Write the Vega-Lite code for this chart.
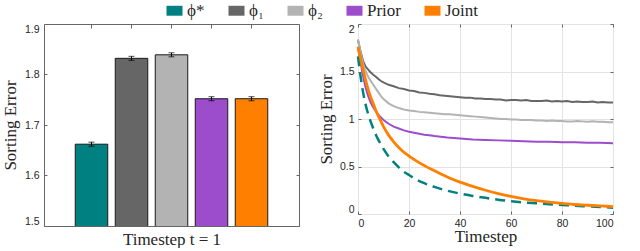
{
  "$schema": "https://vega.github.io/schema/vega-lite/v6.json",
  "padding": {"left": 0, "top": 2, "right": 0, "bottom": 0},
  "background": "white",
  "spacing": 16,
  "config": {
    "view": {"stroke": "#666666", "strokeWidth": 1},
    "axis": {
      "labelFont": "Liberation Sans", "labelFontSize": 10.5, "labelColor": "#262626",
      "titleFont": "Liberation Serif", "titleFontSize": 17, "titleFontWeight": "normal", "titleColor": "#262626",
      "domainColor": "#666666", "tickColor": "#666666", "gridColor": "#e3e3e3"
    }
  },
  "datasets": {
    "bars": [
      {"name": "ϕ*", "value": 1.662, "err": 0.004},
      {"name": "ϕ₁", "value": 1.832, "err": 0.004},
      {"name": "ϕ₂", "value": 1.839, "err": 0.004},
      {"name": "Prior", "value": 1.752, "err": 0.004},
      {"name": "Joint", "value": 1.752, "err": 0.004}
    ],
    "g": [
      {"name": "ϕ₁", "t": 0, "v": 1.83}, {"name": "ϕ₁", "t": 1, "v": 1.71}, {"name": "ϕ₁", "t": 2, "v": 1.61}, {"name": "ϕ₁", "t": 3, "v": 1.55}, {"name": "ϕ₁", "t": 4, "v": 1.52}, {"name": "ϕ₁", "t": 5, "v": 1.49}, {"name": "ϕ₁", "t": 6, "v": 1.465}, {"name": "ϕ₁", "t": 7, "v": 1.445}, {"name": "ϕ₁", "t": 8, "v": 1.42}, {"name": "ϕ₁", "t": 9, "v": 1.40}, {"name": "ϕ₁", "t": 10, "v": 1.385},
      {"name": "ϕ₁", "t": 12, "v": 1.36}, {"name": "ϕ₁", "t": 14, "v": 1.345}, {"name": "ϕ₁", "t": 16, "v": 1.325}, {"name": "ϕ₁", "t": 18, "v": 1.315}, {"name": "ϕ₁", "t": 20, "v": 1.30}, {"name": "ϕ₁", "t": 22, "v": 1.295}, {"name": "ϕ₁", "t": 24, "v": 1.28}, {"name": "ϕ₁", "t": 26, "v": 1.275}, {"name": "ϕ₁", "t": 28, "v": 1.265}, {"name": "ϕ₁", "t": 30, "v": 1.26},
      {"name": "ϕ₁", "t": 32, "v": 1.25}, {"name": "ϕ₁", "t": 34, "v": 1.245}, {"name": "ϕ₁", "t": 36, "v": 1.24}, {"name": "ϕ₁", "t": 38, "v": 1.235}, {"name": "ϕ₁", "t": 40, "v": 1.23}, {"name": "ϕ₁", "t": 42, "v": 1.225}, {"name": "ϕ₁", "t": 44, "v": 1.225}, {"name": "ϕ₁", "t": 46, "v": 1.215}, {"name": "ϕ₁", "t": 48, "v": 1.215}, {"name": "ϕ₁", "t": 50, "v": 1.21},
      {"name": "ϕ₁", "t": 52, "v": 1.21}, {"name": "ϕ₁", "t": 54, "v": 1.205}, {"name": "ϕ₁", "t": 56, "v": 1.205}, {"name": "ϕ₁", "t": 58, "v": 1.195}, {"name": "ϕ₁", "t": 60, "v": 1.20}, {"name": "ϕ₁", "t": 62, "v": 1.20}, {"name": "ϕ₁", "t": 64, "v": 1.195}, {"name": "ϕ₁", "t": 66, "v": 1.20}, {"name": "ϕ₁", "t": 68, "v": 1.19}, {"name": "ϕ₁", "t": 70, "v": 1.19},
      {"name": "ϕ₁", "t": 72, "v": 1.19}, {"name": "ϕ₁", "t": 74, "v": 1.195}, {"name": "ϕ₁", "t": 76, "v": 1.185}, {"name": "ϕ₁", "t": 78, "v": 1.19}, {"name": "ϕ₁", "t": 80, "v": 1.185}, {"name": "ϕ₁", "t": 82, "v": 1.19}, {"name": "ϕ₁", "t": 84, "v": 1.18}, {"name": "ϕ₁", "t": 86, "v": 1.185}, {"name": "ϕ₁", "t": 88, "v": 1.18}, {"name": "ϕ₁", "t": 90, "v": 1.18},
      {"name": "ϕ₁", "t": 92, "v": 1.185}, {"name": "ϕ₁", "t": 94, "v": 1.175}, {"name": "ϕ₁", "t": 96, "v": 1.18}, {"name": "ϕ₁", "t": 98, "v": 1.175}, {"name": "ϕ₁", "t": 100, "v": 1.175},
      {"name": "ϕ₂", "t": 0, "v": 1.84}, {"name": "ϕ₂", "t": 1, "v": 1.70}, {"name": "ϕ₂", "t": 2, "v": 1.58}, {"name": "ϕ₂", "t": 3, "v": 1.50}, {"name": "ϕ₂", "t": 4, "v": 1.445}, {"name": "ϕ₂", "t": 5, "v": 1.40}, {"name": "ϕ₂", "t": 6, "v": 1.36}, {"name": "ϕ₂", "t": 7, "v": 1.32}, {"name": "ϕ₂", "t": 8, "v": 1.28}, {"name": "ϕ₂", "t": 9, "v": 1.24}, {"name": "ϕ₂", "t": 10, "v": 1.21},
      {"name": "ϕ₂", "t": 12, "v": 1.165}, {"name": "ϕ₂", "t": 14, "v": 1.135}, {"name": "ϕ₂", "t": 16, "v": 1.115}, {"name": "ϕ₂", "t": 18, "v": 1.10}, {"name": "ϕ₂", "t": 20, "v": 1.09}, {"name": "ϕ₂", "t": 22, "v": 1.085}, {"name": "ϕ₂", "t": 24, "v": 1.075}, {"name": "ϕ₂", "t": 26, "v": 1.07}, {"name": "ϕ₂", "t": 28, "v": 1.065}, {"name": "ϕ₂", "t": 30, "v": 1.06},
      {"name": "ϕ₂", "t": 32, "v": 1.055}, {"name": "ϕ₂", "t": 34, "v": 1.05}, {"name": "ϕ₂", "t": 36, "v": 1.05}, {"name": "ϕ₂", "t": 38, "v": 1.045}, {"name": "ϕ₂", "t": 40, "v": 1.04}, {"name": "ϕ₂", "t": 42, "v": 1.035}, {"name": "ϕ₂", "t": 44, "v": 1.03}, {"name": "ϕ₂", "t": 46, "v": 1.025}, {"name": "ϕ₂", "t": 48, "v": 1.02}, {"name": "ϕ₂", "t": 50, "v": 1.015},
      {"name": "ϕ₂", "t": 52, "v": 1.01}, {"name": "ϕ₂", "t": 54, "v": 1.005}, {"name": "ϕ₂", "t": 56, "v": 1.0}, {"name": "ϕ₂", "t": 58, "v": 1.0}, {"name": "ϕ₂", "t": 60, "v": 0.995}, {"name": "ϕ₂", "t": 62, "v": 0.995}, {"name": "ϕ₂", "t": 64, "v": 0.99}, {"name": "ϕ₂", "t": 66, "v": 0.99}, {"name": "ϕ₂", "t": 68, "v": 0.99}, {"name": "ϕ₂", "t": 70, "v": 0.985},
      {"name": "ϕ₂", "t": 72, "v": 0.985}, {"name": "ϕ₂", "t": 74, "v": 0.98}, {"name": "ϕ₂", "t": 76, "v": 0.985}, {"name": "ϕ₂", "t": 78, "v": 0.98}, {"name": "ϕ₂", "t": 80, "v": 0.98}, {"name": "ϕ₂", "t": 82, "v": 0.975}, {"name": "ϕ₂", "t": 84, "v": 0.975}, {"name": "ϕ₂", "t": 86, "v": 0.98}, {"name": "ϕ₂", "t": 88, "v": 0.975}, {"name": "ϕ₂", "t": 90, "v": 0.97},
      {"name": "ϕ₂", "t": 92, "v": 0.975}, {"name": "ϕ₂", "t": 94, "v": 0.97}, {"name": "ϕ₂", "t": 96, "v": 0.97}, {"name": "ϕ₂", "t": 98, "v": 0.965}, {"name": "ϕ₂", "t": 100, "v": 0.965},
      {"name": "Prior", "t": 0, "v": 1.75}, {"name": "Prior", "t": 1, "v": 1.60}, {"name": "Prior", "t": 2, "v": 1.45}, {"name": "Prior", "t": 3, "v": 1.33}, {"name": "Prior", "t": 4, "v": 1.24}, {"name": "Prior", "t": 5, "v": 1.17}, {"name": "Prior", "t": 6, "v": 1.12}, {"name": "Prior", "t": 7, "v": 1.08}, {"name": "Prior", "t": 8, "v": 1.045}, {"name": "Prior", "t": 9, "v": 1.015}, {"name": "Prior", "t": 10, "v": 0.99},
      {"name": "Prior", "t": 12, "v": 0.95}, {"name": "Prior", "t": 14, "v": 0.92}, {"name": "Prior", "t": 16, "v": 0.90}, {"name": "Prior", "t": 18, "v": 0.88}, {"name": "Prior", "t": 20, "v": 0.865}, {"name": "Prior", "t": 22, "v": 0.855}, {"name": "Prior", "t": 24, "v": 0.845}, {"name": "Prior", "t": 26, "v": 0.835}, {"name": "Prior", "t": 28, "v": 0.83}, {"name": "Prior", "t": 30, "v": 0.82},
      {"name": "Prior", "t": 35, "v": 0.805}, {"name": "Prior", "t": 40, "v": 0.795}, {"name": "Prior", "t": 45, "v": 0.785}, {"name": "Prior", "t": 50, "v": 0.78}, {"name": "Prior", "t": 55, "v": 0.775}, {"name": "Prior", "t": 60, "v": 0.77}, {"name": "Prior", "t": 65, "v": 0.765}, {"name": "Prior", "t": 70, "v": 0.76}, {"name": "Prior", "t": 75, "v": 0.76}, {"name": "Prior", "t": 80, "v": 0.755},
      {"name": "Prior", "t": 85, "v": 0.755}, {"name": "Prior", "t": 90, "v": 0.75}, {"name": "Prior", "t": 95, "v": 0.75}, {"name": "Prior", "t": 100, "v": 0.745}
    ],
    "star": [
      {"name": "ϕ*", "t": 0, "v": 1.66}, {"name": "ϕ*", "t": 1, "v": 1.45}, {"name": "ϕ*", "t": 2, "v": 1.28}, {"name": "ϕ*", "t": 3, "v": 1.15}, {"name": "ϕ*", "t": 4, "v": 1.05}, {"name": "ϕ*", "t": 5, "v": 0.97}, {"name": "ϕ*", "t": 6, "v": 0.90}, {"name": "ϕ*", "t": 7, "v": 0.835}, {"name": "ϕ*", "t": 8, "v": 0.78}, {"name": "ϕ*", "t": 9, "v": 0.73}, {"name": "ϕ*", "t": 10, "v": 0.685},
      {"name": "ϕ*", "t": 12, "v": 0.605}, {"name": "ϕ*", "t": 14, "v": 0.545}, {"name": "ϕ*", "t": 16, "v": 0.49}, {"name": "ϕ*", "t": 18, "v": 0.445}, {"name": "ϕ*", "t": 20, "v": 0.41}, {"name": "ϕ*", "t": 25, "v": 0.335}, {"name": "ϕ*", "t": 30, "v": 0.285}, {"name": "ϕ*", "t": 35, "v": 0.245}, {"name": "ϕ*", "t": 40, "v": 0.215}, {"name": "ϕ*", "t": 45, "v": 0.19},
      {"name": "ϕ*", "t": 50, "v": 0.17}, {"name": "ϕ*", "t": 55, "v": 0.15}, {"name": "ϕ*", "t": 60, "v": 0.135}, {"name": "ϕ*", "t": 65, "v": 0.122}, {"name": "ϕ*", "t": 70, "v": 0.112}, {"name": "ϕ*", "t": 75, "v": 0.102}, {"name": "ϕ*", "t": 80, "v": 0.095}, {"name": "ϕ*", "t": 85, "v": 0.087}, {"name": "ϕ*", "t": 90, "v": 0.08}, {"name": "ϕ*", "t": 95, "v": 0.073}, {"name": "ϕ*", "t": 100, "v": 0.067}
    ],
    "joint": [
      {"name": "Joint", "t": 0, "v": 1.76}, {"name": "Joint", "t": 1, "v": 1.64}, {"name": "Joint", "t": 2, "v": 1.52}, {"name": "Joint", "t": 3, "v": 1.41}, {"name": "Joint", "t": 4, "v": 1.31}, {"name": "Joint", "t": 5, "v": 1.23}, {"name": "Joint", "t": 6, "v": 1.16}, {"name": "Joint", "t": 7, "v": 1.09}, {"name": "Joint", "t": 8, "v": 1.03}, {"name": "Joint", "t": 9, "v": 0.975}, {"name": "Joint", "t": 10, "v": 0.92},
      {"name": "Joint", "t": 12, "v": 0.83}, {"name": "Joint", "t": 14, "v": 0.76}, {"name": "Joint", "t": 16, "v": 0.70}, {"name": "Joint", "t": 18, "v": 0.65}, {"name": "Joint", "t": 20, "v": 0.61}, {"name": "Joint", "t": 25, "v": 0.525}, {"name": "Joint", "t": 30, "v": 0.455}, {"name": "Joint", "t": 35, "v": 0.39}, {"name": "Joint", "t": 40, "v": 0.335}, {"name": "Joint", "t": 45, "v": 0.29},
      {"name": "Joint", "t": 50, "v": 0.25}, {"name": "Joint", "t": 55, "v": 0.215}, {"name": "Joint", "t": 60, "v": 0.185}, {"name": "Joint", "t": 65, "v": 0.16}, {"name": "Joint", "t": 70, "v": 0.14}, {"name": "Joint", "t": 75, "v": 0.125}, {"name": "Joint", "t": 80, "v": 0.112}, {"name": "Joint", "t": 85, "v": 0.1}, {"name": "Joint", "t": 90, "v": 0.092}, {"name": "Joint", "t": 95, "v": 0.085}, {"name": "Joint", "t": 100, "v": 0.078}
    ]
  },
  "hconcat": [
    {
      "width": 255,
      "height": 202,
      "data": {"name": "bars"},
      "layer": [
        {
          "mark": {"type": "bar", "stroke": "#1a1a1a", "strokeWidth": 1, "clip": true},
          "encoding": {
            "x": {
              "field": "name", "type": "nominal",
              "scale": {"domain": ["ϕ*", "ϕ₁", "ϕ₂", "Prior", "Joint"], "paddingInner": 0.1875, "paddingOuter": 0.78125},
              "axis": {"orient": "bottom", "labels": false, "ticks": false, "domain": false, "title": "Timestep t = 1", "titlePadding": 5}
            },
            "y": {
              "field": "value", "type": "quantitative",
              "scale": {"domain": [1.5, 1.9], "zero": false, "nice": false},
              "axis": {"values": [1.5, 1.6, 1.7, 1.8, 1.9], "format": ".1f", "title": "Sorting Error", "grid": false, "domain": false, "tickSize": -3, "labelPadding": 8, "labelFlush": true, "titlePadding": 5}
            },
            "color": {
              "field": "name", "type": "nominal",
              "scale": {"domain": ["ϕ*", "ϕ₁", "ϕ₂", "Prior", "Joint"], "range": ["#008080", "#666666", "#b3b3b3", "#9b4dcc", "#ff8000"]},
              "legend": {
                "orient": "none", "legendX": 122, "legendY": -22, "direction": "horizontal", "title": null,
                "symbolType": "M-1,-0.62H1V0.62H-1Z", "symbolSize": 256, "symbolStrokeWidth": 0,
                "labelFont": "Liberation Serif", "labelFontSize": 17, "labelColor": "#262626",
                "labelOffset": 4, "columnPadding": 23, "padding": 0
              }
            }
          }
        },
        {
          "mark": {"type": "errorbar", "ticks": true, "size": 6, "thickness": 1, "color": "#000000"},
          "encoding": {
            "x": {"field": "name", "type": "nominal", "axis": {"orient": "top", "labels": false, "title": null, "domain": false, "tickSize": -4}},
            "y": {"field": "value", "type": "quantitative", "axis": {"orient": "right", "labels": false, "title": null, "domain": false, "grid": false, "tickSize": -3, "values": [1.5, 1.6, 1.7, 1.8, 1.9]}},
            "yError": {"field": "err"}
          }
        }
      ],
      "resolve": {"axis": {"x": "independent", "y": "independent"}}
    },
    {
      "width": 255,
      "height": 190,
      "layer": [
        {
          "data": {"name": "g"},
          "mark": {"type": "line", "strokeWidth": 2},
          "encoding": {
            "x": {
              "field": "t", "type": "quantitative", "scale": {"domain": [0, 100], "nice": false},
              "axis": {"orient": "bottom", "values": [0, 20, 40, 60, 80, 100], "title": "Timestep", "grid": true, "domain": false, "tickSize": -3, "labelPadding": 7, "labelFlush": true, "titlePadding": 0}
            },
            "y": {
              "field": "v", "type": "quantitative", "scale": {"domain": [0, 2], "nice": false},
              "axis": {"orient": "left", "values": [0, 0.5, 1, 1.5, 2], "format": ".1~f", "title": "Sorting Error", "grid": true, "domain": false, "tickSize": -3, "labelPadding": 7, "labelFlush": true, "titlePadding": 4}
            },
            "color": {
              "field": "name", "type": "nominal",
              "scale": {"domain": ["ϕ*", "ϕ₁", "ϕ₂", "Prior", "Joint"], "range": ["#008080", "#666666", "#b3b3b3", "#9b4dcc", "#ff8000"]},
              "legend": null
            }
          }
        },
        {
          "data": {"name": "star"},
          "mark": {"type": "line", "strokeWidth": 2.5, "strokeDash": [10, 6], "interpolate": "monotone"},
          "encoding": {
            "x": {"field": "t", "type": "quantitative", "axis": {"orient": "top", "values": [0, 20, 40, 60, 80, 100], "labels": false, "title": null, "grid": false, "domain": false, "tickSize": -3}},
            "y": {"field": "v", "type": "quantitative", "axis": {"orient": "right", "values": [0, 0.5, 1, 1.5, 2], "labels": false, "title": null, "grid": false, "domain": false, "tickSize": -3}},
            "color": {
              "field": "name", "type": "nominal",
              "scale": {"domain": ["ϕ*", "ϕ₁", "ϕ₂", "Prior", "Joint"], "range": ["#008080", "#666666", "#b3b3b3", "#9b4dcc", "#ff8000"]},
              "legend": null
            }
          }
        },
        {
          "data": {"name": "joint"},
          "mark": {"type": "line", "strokeWidth": 2.8, "interpolate": "monotone"},
          "encoding": {
            "x": {"field": "t", "type": "quantitative", "axis": null},
            "y": {"field": "v", "type": "quantitative", "axis": null},
            "color": {
              "field": "name", "type": "nominal",
              "scale": {"domain": ["ϕ*", "ϕ₁", "ϕ₂", "Prior", "Joint"], "range": ["#008080", "#666666", "#b3b3b3", "#9b4dcc", "#ff8000"]},
              "legend": null
            }
          }
        }
      ],
      "resolve": {"axis": {"x": "independent", "y": "independent"}}
    }
  ]
}
